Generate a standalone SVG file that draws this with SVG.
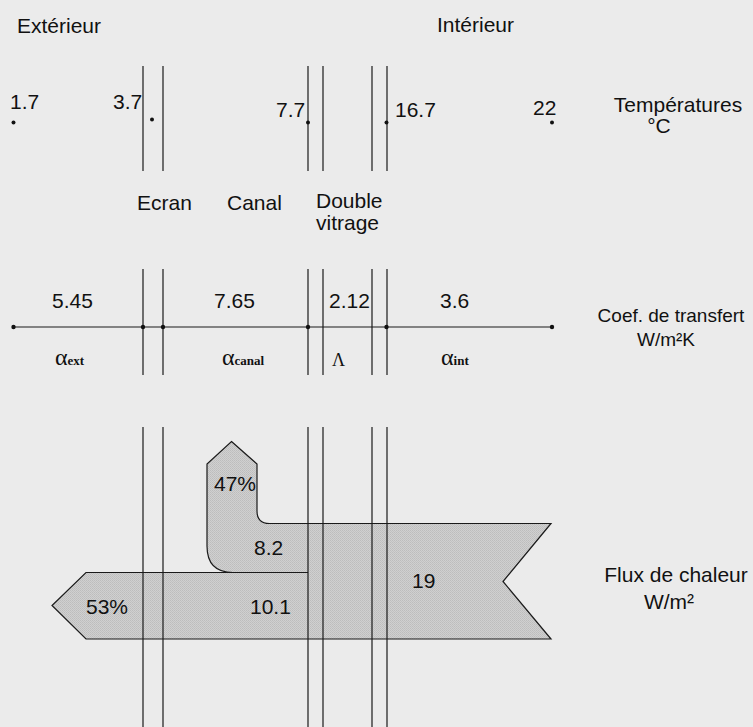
<svg xmlns="http://www.w3.org/2000/svg" width="753" height="727" viewBox="0 0 753 727">
<style>
text{font-family:"Liberation Sans",Arial,Helvetica,sans-serif;font-size:21px;fill:#111}
.c{text-anchor:middle}
.s{font-size:19px}
.g{font-family:"Liberation Serif","Times New Roman",serif;font-size:24px}
.L{font-family:"Liberation Serif","Times New Roman",serif;font-size:18px}
.sub{font-family:"Liberation Serif","Times New Roman",serif;font-size:13px;font-weight:bold}
.ln{stroke:#1a1a1a;stroke-width:1.2;fill:none}
.dot{fill:#111}
</style>
<defs>
<pattern id="stip" width="2" height="2" patternUnits="userSpaceOnUse">
<rect width="2" height="2" fill="#d0d0d0"/>
<rect width="1" height="1" fill="#bdbdbd"/>
<rect x="1" y="1" width="1" height="1" fill="#c2c2c2"/>
</pattern>
</defs>
<rect width="753" height="727" fill="#ebebeb"/>

<g id="titres">
<text x="17" y="33">Extérieur</text>
<text x="437" y="32">Intérieur</text>
<text x="678" y="112" class="c">Températures</text>
<text x="659" y="133" class="c">°C</text>
<text x="137" y="210">Ecran</text>
<text x="227" y="210">Canal</text>
<text x="316" y="208">Double</text>
<text x="316" y="230">vitrage</text>
<text x="671" y="322" class="c s">Coef. de transfert</text>
<text x="666" y="346" class="c s">W/m²K</text>
<text x="676" y="582" class="c">Flux de chaleur</text>
<text x="669" y="609" class="c">W/m²</text>
</g>

<g id="flux">
<path d="M231.5 441.5 L257 464 L257 511 Q257 523.5 269.5 523.5 L551 523.5 L503 581.5 L551 639 L86 639 L52 605.5 L86 572.5 L233 572.5 Q207 572.5 207 546 L207 464 Z" fill="url(#stip)" stroke="#1a1a1a" stroke-width="1.2" stroke-linejoin="miter"/>
<line x1="233" y1="572.5" x2="308" y2="572.5" class="ln"/>
<text x="214" y="491">47%</text>
<text x="254" y="555">8.2</text>
<text x="412" y="588">19</text>
<text x="86" y="614">53%</text>
<text x="250" y="614">10.1</text>
</g>

<g id="couches">
<g class="ln">
<line x1="143" y1="66" x2="143" y2="171"/><line x1="163" y1="66" x2="163" y2="171"/>
<line x1="308" y1="66" x2="308" y2="171"/><line x1="323" y1="66" x2="323" y2="171"/>
<line x1="372" y1="66" x2="372" y2="171"/><line x1="387" y1="66" x2="387" y2="171"/>
<line x1="143" y1="269" x2="143" y2="375"/><line x1="163" y1="269" x2="163" y2="375"/>
<line x1="308" y1="269" x2="308" y2="375"/><line x1="323" y1="269" x2="323" y2="375"/>
<line x1="372" y1="269" x2="372" y2="375"/><line x1="387" y1="269" x2="387" y2="375"/>
<line x1="143" y1="427" x2="143" y2="727"/><line x1="163" y1="427" x2="163" y2="727"/>
<line x1="308" y1="427" x2="308" y2="727"/><line x1="323" y1="427" x2="323" y2="727"/>
<line x1="372" y1="427" x2="372" y2="727"/><line x1="387" y1="427" x2="387" y2="727"/>
</g>
</g>

<g id="temperatures">
<text x="10" y="109">1.7</text>
<text x="113" y="109">3.7</text>
<text x="276" y="117">7.7</text>
<text x="395" y="117">16.7</text>
<text x="533" y="115">22</text>
<circle cx="13.5" cy="122.5" r="2" class="dot"/>
<circle cx="152" cy="119.5" r="2" class="dot"/>
<circle cx="308" cy="122.5" r="2" class="dot"/>
<circle cx="386.5" cy="122.5" r="2" class="dot"/>
<circle cx="552" cy="122.5" r="2" class="dot"/>
</g>

<g id="coefficients">
<line x1="13" y1="327" x2="552" y2="327" class="ln" stroke-width="1.5"/>
<circle cx="13.5" cy="327" r="2.2" class="dot"/>
<circle cx="143" cy="327" r="2.2" class="dot"/>
<circle cx="163" cy="327" r="2.2" class="dot"/>
<circle cx="308" cy="327" r="2.2" class="dot"/>
<circle cx="386.5" cy="327" r="2.2" class="dot"/>
<circle cx="552" cy="327" r="2.2" class="dot"/>
<text x="52" y="308">5.45</text>
<text x="214" y="308">7.65</text>
<text x="329" y="308">2.12</text>
<text x="440" y="308">3.6</text>
<text x="55" y="365" class="g">α<tspan class="sub">ext</tspan></text>
<text x="222" y="365" class="g">α<tspan class="sub">canal</tspan></text>
<text x="332" y="366" class="L">Λ</text>
<text x="441" y="365" class="g">α<tspan class="sub">int</tspan></text>
</g>
</svg>
